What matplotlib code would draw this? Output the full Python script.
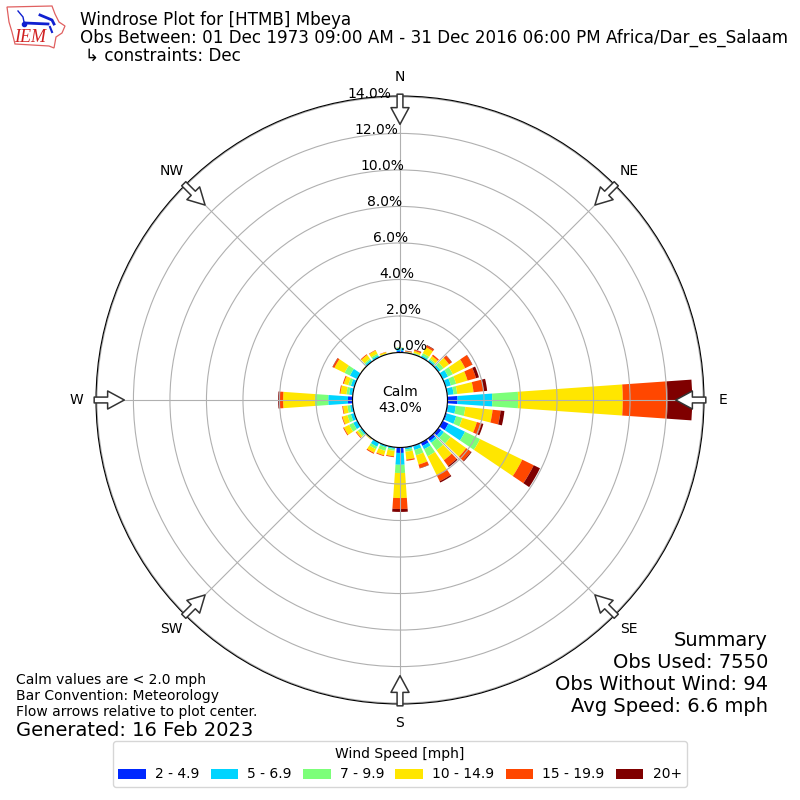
import numpy as np
import matplotlib
matplotlib.use("Agg")
import matplotlib.pyplot as plt
from matplotlib.patches import Polygon

directions = list(range(0, 360, 10))
# cumulative frequency [%] at the top of each speed bin, per direction
top_2_5 = [.08,.01,.01,.02,.02,.02,.02,.03,.03,.55,.06,.08,.35,.20,.18,.20,.05,.03,
           .30,.02,.02,.02,.01,.02,.03,.03,.03,.25,.03,.03,.02,.01,.02,.02,.01,.01]
top_5_7 = [.24,.03,.05,.12,.12,.15,.33,.30,.35,2.45,.47,.60,1.36,.38,.30,.40,.25,.12,
           .95,.10,.10,.25,.03,.12,.25,.20,.15,1.33,.20,.20,.45,.02,.12,.12,.03,.02]
top_7_10 = [.27,.05,.09,.25,.20,.35,.62,.60,.55,3.87,1.00,.95,2.28,.83,.80,.83,.55,.25,
            1.40,.20,.30,.40,.05,.25,.50,.40,.30,2.06,.35,.35,.78,.03,.20,.22,.05,.03]
top_10_15 = [.28,.08,.20,.62,.38,.72,1.37,1.25,1.45,9.60,2.50,1.78,4.85,1.88,1.48,1.97,1.08,.68,
             2.77,.50,.55,.62,.08,.36,.82,.68,.54,3.80,.68,.60,1.40,.05,.45,.42,.13,.05]
top_15_20 = [.28,.10,.26,.72,.47,.90,1.80,1.73,2.00,12.05,2.94,2.05,5.55,2.20,1.87,2.35,1.28,.75,
             3.37,.55,.60,.68,.09,.40,.87,.72,.58,4.02,.73,.66,1.50,.05,.50,.45,.15,.05]
top_20 = [.28,.12,.28,.75,.47,.92,1.82,1.90,2.20,13.40,3.15,2.15,5.93,2.25,1.94,2.43,1.30,.75,
          3.53,.55,.60,.68,.09,.40,.87,.72,.58,4.07,.73,.66,1.52,.05,.50,.45,.15,.05]
bin_tops = [top_2_5, top_5_7, top_7_10, top_10_15, top_15_20, top_20]
bin_labels = ["2 - 4.9", "5 - 6.9", "7 - 9.9", "10 - 14.9", "15 - 19.9", "20+"]
bin_colors = ["#0028ff", "#00d4ff", "#7cff79", "#ffe600", "#ff4700", "#7f0000"]
r_ticks = [0, 2, 4, 6, 8, 10, 12, 14]
compass = ["N", "NE", "E", "SE", "S", "SW", "W", "NW"]
compass_deg = [0, 45, 90, 135, 180, 225, 270, 315]

fig = plt.figure(figsize=(8, 8), dpi=100)
ax = fig.add_axes([96/800, 96/800, 608/800, 608/800], projection="polar")
ax.set_theta_zero_location("N")
ax.set_theta_direction(-1)

theta = np.deg2rad(directions)
bottom = np.zeros(len(directions))
for tops, lab, col in zip(bin_tops, bin_labels, bin_colors):
    tops = np.array(tops)
    ax.bar(theta, tops - bottom, width=np.deg2rad(8), bottom=bottom,
           color=col, label=lab, linewidth=0)
    bottom = tops

ax.set_ylim(0, 14.05)
ax.set_rorigin(-2.6)
ax.set_thetagrids(compass_deg, compass)
ax.set_rgrids(r_ticks, [f"{v:.1f}%" for v in r_ticks], angle=-9.9)
ax.tick_params(axis="x", pad=3.5)
ax.grid(True, color="#b0b0b0", linewidth=0.8)

for deg in compass_deg:
    ax.annotate("", xy=(np.deg2rad(deg), 12.5), xytext=(np.deg2rad(deg), 14.15),
                annotation_clip=False, zorder=6,
                arrowprops=dict(facecolor="white", edgecolor="#333333", linewidth=1.1,
                                width=4.2, headwidth=13, headlength=12, shrink=0))

ax.text(0.5, 0.5, "Calm\n43.0%", transform=ax.transAxes, ha="center", va="center",
        fontsize=10, linespacing=1.2)

fig.text(80/800, 1-20/800, "Windrose Plot for [HTMB] Mbeya", fontsize=12.05, va="center")
fig.text(80/800, 1-38/800, "Obs Between: 01 Dec 1973 09:00 AM - 31 Dec 2016 06:00 PM Africa/Dar_es_Salaam",
         fontsize=12.05, va="center")
fig.text(85/800, 1-56/800, "↳ constraints: Dec", fontsize=12.05, va="center")

fig.text(768/800, 1-640/800, "Summary", fontsize=14, ha="right", va="center")
fig.text(768/800, 1-662/800, "Obs Used: 7550", fontsize=14, ha="right", va="center")
fig.text(768/800, 1-684/800, "Obs Without Wind: 94", fontsize=14, ha="right", va="center")
fig.text(768/800, 1-706/800, "Avg Speed: 6.6 mph", fontsize=14, ha="right", va="center")

fig.text(16/800, 1-680/800, "Calm values are < 2.0 mph", fontsize=10, va="center")
fig.text(16/800, 1-696/800, "Bar Convention: Meteorology", fontsize=10, va="center")
fig.text(16/800, 1-712/800, "Flow arrows relative to plot center.", fontsize=10, va="center")
fig.text(16/800, 1-730/800, "Generated: 16 Feb 2023", fontsize=14, va="center")

handles, labels = ax.get_legend_handles_labels()
fig.legend(handles, labels, title="Wind Speed [mph]", ncol=6, loc="lower center",
           bbox_to_anchor=(0.5, 1-794/800), fontsize=10, title_fontsize=10,
           handlelength=2.0, handletextpad=0.65, columnspacing=0.8)

# logo
lg = fig.add_axes([0, 1-60/800, 70/800, 60/800])
lg.set_xlim(0, 70); lg.set_ylim(60, 0); lg.axis("off")
lg.add_patch(Polygon([(7,7),(52,6),(55,14),(59,22),(65,26),(62,33),(56,37),(54,48),(49,46),
                      (15,44),(12,32),(9,22)], closed=True, fill=False, edgecolor="#e06060", lw=0.9))
lg.plot([25,48],[23,24], color="#1020d0", lw=2)
lg.plot([40,52,54],[15,20,24], color="#1020d0", lw=2)
lg.plot([18,23,24],[11,17,22], color="#1020d0", lw=1)
lg.plot([50,52],[27,32], color="#1020d0", lw=1.5)
lg.plot([24],[24], "o", color="#1020d0", ms=3)
lg.text(30, 38, "IEM", color="#d02020", family="Liberation Serif", style="italic",
        fontsize=13, ha="center", va="center")

fig.savefig("out.png", dpi=100)
